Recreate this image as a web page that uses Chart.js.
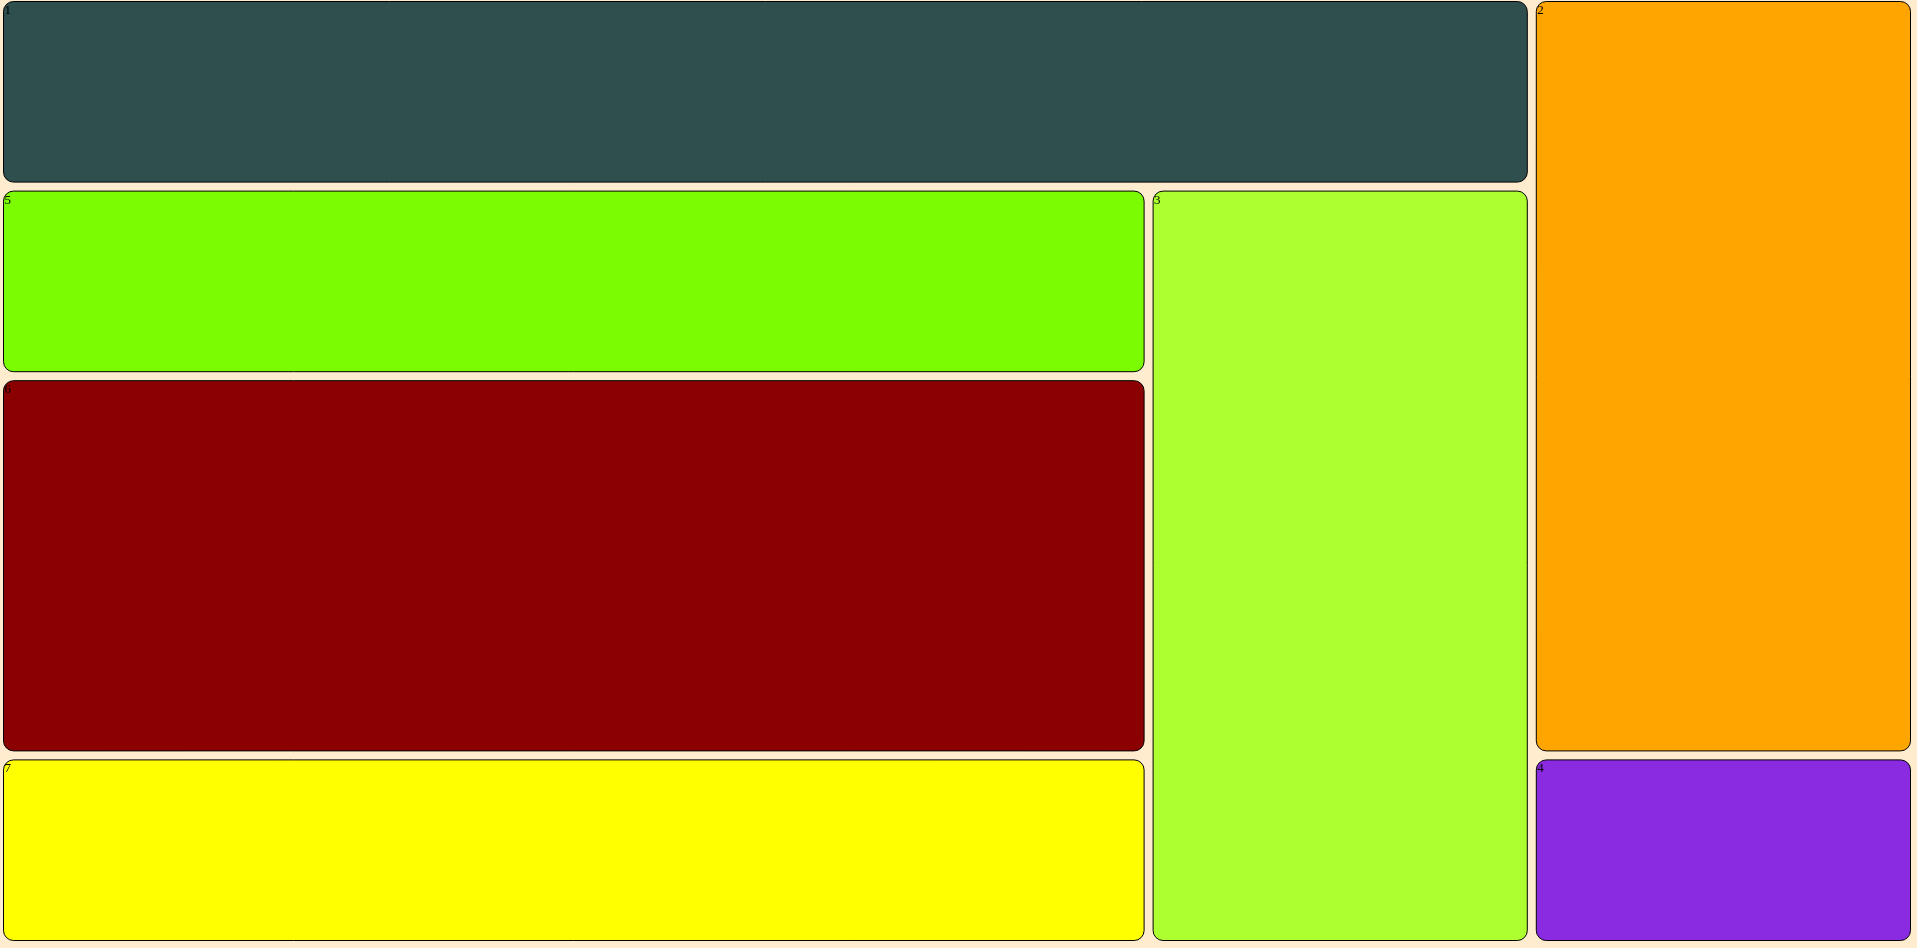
<!DOCTYPE html>
<html>
<head>
<meta charset="utf-8">
<script src="https://cdn.jsdelivr.net/npm/chart.js@4/dist/chart.umd.min.js"></script>
<style>
  html, body { margin: 0; padding: 0; background: #FFEBCD; overflow: hidden; width: 1917px; height: 948px; }
  #wrap { position: absolute; left: -1px; top: -3px; width: 1916px; height: 948px; }
</style>
</head>
<body>
<div id="wrap"><canvas id="c"></canvas></div>
<script>
// ---- data ----
const cellLabels = ['1', '2', '3', '4', '5', '6', '7'];
const cellValues = [16, 16, 16, 4, 12, 24, 12];
const cellColors = ['#2F4F4F', '#FFA500', '#ADFF2F', '#8A2BE2', '#7CFC00', '#8B0000', '#FFFF00'];
// order in which the cells are cut off the remaining area (indices into the arrays above)
const stripMembers = [[1, 3], [0], [2], [4, 5, 6]];
const stripSides = ['right', 'top', 'right', 'left'];

// ---- layout (in value space 0..1 on both axes) ----
function layoutCells() {
  const out = [];
  let rect = { x0: 0, y0: 0, x1: 1, y1: 1 };
  let remaining = cellValues.reduce((a, b) => a + b, 0);
  stripMembers.forEach((members, si) => {
    const side = stripSides[si];
    const sum = members.reduce((a, i) => a + cellValues[i], 0);
    const frac = sum / remaining;
    let strip;
    if (side === 'right') {
      const w = (rect.x1 - rect.x0) * frac;
      strip = { x0: rect.x1 - w, y0: rect.y0, x1: rect.x1, y1: rect.y1 };
      rect = { x0: rect.x0, y0: rect.y0, x1: rect.x1 - w, y1: rect.y1 };
    } else if (side === 'left') {
      const w = (rect.x1 - rect.x0) * frac;
      strip = { x0: rect.x0, y0: rect.y0, x1: rect.x0 + w, y1: rect.y1 };
      rect = { x0: rect.x0 + w, y0: rect.y0, x1: rect.x1, y1: rect.y1 };
    } else { // top
      const h = (rect.y1 - rect.y0) * frac;
      strip = { x0: rect.x0, y0: rect.y0, x1: rect.x1, y1: rect.y0 + h };
      rect = { x0: rect.x0, y0: rect.y0 + h, x1: rect.x1, y1: rect.y1 };
    }
    let acc = 0;
    members.forEach(i => {
      const f0 = acc / sum;
      acc += cellValues[i];
      const f1 = acc / sum;
      if (side === 'top') {
        const w = strip.x1 - strip.x0;
        out.push({ i, x0: strip.x0 + w * f0, x1: strip.x0 + w * f1, y0: strip.y0, y1: strip.y1 });
      } else {
        const h = strip.y1 - strip.y0;
        out.push({ i, x0: strip.x0, x1: strip.x1, y0: strip.y0 + h * f0, y1: strip.y0 + h * f1 });
      }
    });
    remaining -= sum;
  });
  return out;
}
const cells = layoutCells();

function roundRectPath(ctx, x, y, w, h, r) {
  r = Math.min(r, w / 2, h / 2);
  ctx.beginPath();
  ctx.moveTo(x + r, y);
  ctx.lineTo(x + w - r, y);
  ctx.arcTo(x + w, y, x + w, y + r, r);
  ctx.lineTo(x + w, y + h - r);
  ctx.arcTo(x + w, y + h, x + w - r, y + h, r);
  ctx.lineTo(x + r, y + h);
  ctx.arcTo(x, y + h, x, y + h - r, r);
  ctx.lineTo(x, y + r);
  ctx.arcTo(x, y, x + r, y, r);
  ctx.closePath();
}

const treemapPlugin = {
  id: 'treemapCells',
  afterDatasetsDraw(chart) {
    const ctx = chart.ctx;
    const xs = chart.scales.x, ys = chart.scales.y;
    const inset = 4.5, radius = 10;
    cells.forEach(c => {
      const px0 = xs.getPixelForValue(c.x0) + inset;
      const px1 = xs.getPixelForValue(c.x1) - inset;
      const py0 = ys.getPixelForValue(c.y0) + inset;
      const py1 = ys.getPixelForValue(c.y1) - inset;
      ctx.save();
      roundRectPath(ctx, px0, py0, px1 - px0, py1 - py0, radius);
      ctx.fillStyle = cellColors[c.i];
      ctx.fill();
      ctx.lineWidth = 1;
      ctx.strokeStyle = '#000000';
      ctx.stroke();
      ctx.clip();
      ctx.fillStyle = '#000000';
      ctx.font = '13px "Liberation Serif", "DejaVu Serif", serif';
      ctx.textAlign = 'left';
      ctx.textBaseline = 'alphabetic';
      ctx.fillText(cellLabels[c.i], px0 + 1, py0 + 12.5);
      ctx.restore();
    });
  }
};

new Chart(document.getElementById('c'), {
  type: 'scatter',
  data: { datasets: [{ data: [], showLine: false }] },
  options: {
    responsive: true,
    maintainAspectRatio: false,
    animation: false,
    devicePixelRatio: 1,
    layout: { padding: 0 },
    plugins: { legend: { display: false }, tooltip: { enabled: false } },
    scales: {
      x: { type: 'linear', min: 0, max: 1, display: false },
      y: { type: 'linear', min: 0, max: 1, reverse: true, display: false }
    }
  },
  plugins: [treemapPlugin]
});
</script>
</body>
</html>
